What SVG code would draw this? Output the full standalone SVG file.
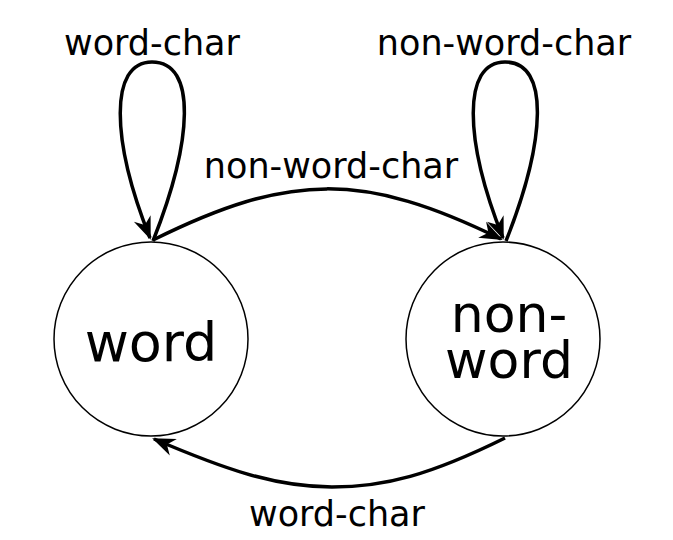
<svg xmlns="http://www.w3.org/2000/svg" width="673" height="540" viewBox="0 0 673 540">
<style>
.state{fill:#fff;stroke:#000;stroke-width:1.5}
.edge{fill:none;stroke:#000;stroke-width:3.5;marker-end:url(#ah)}
.lbl{font-family:"DejaVu Sans",sans-serif;font-size:35px;fill:#000;text-anchor:middle}
.big{font-family:"DejaVu Sans",sans-serif;fill:#000;text-anchor:middle}
</style>
<defs>
<marker id="ah" viewBox="-26 -12 30 24" markerWidth="30" markerHeight="24" refX="0" refY="0" orient="auto" markerUnits="userSpaceOnUse">
<path d="M2,0 L-21,-9 L-14,0 L-21,9 Z" fill="#000"/>
</marker>
</defs>
<rect width="673" height="540" fill="#fff"/>
<g id="node-word">
<circle class="state" cx="151" cy="339" r="97"/>
<text class="big" x="151" y="361" font-size="54">word</text>
</g>
<g id="node-non-word">
<circle class="state" cx="503" cy="339" r="97"/>
<text class="big" x="509" y="332" font-size="52">non-</text>
<text class="big" x="509" y="378" font-size="52">word</text>
</g>
<g id="connectors">
<path class="edge" d="M153,241 C193,140 197,62 152,62 C109,62 111,140 150,238"/>
<path class="edge" d="M506,241 C546,140 550,62 505,62 C462,62 464,140 503,238"/>
<path class="edge" d="M153,240 C290,172 364,172 501,239"/>
<path class="edge" d="M505,438 C430,475 385,487 332,487 C274,487 222,468 154,439"/>
</g>
<g id="labels">
<text class="lbl" x="152" y="55">word-char</text>
<text class="lbl" x="504" y="55">non-word-char</text>
<text class="lbl" x="331" y="178">non-word-char</text>
<text class="lbl" x="337" y="526">word-char</text>
</g>
</svg>
